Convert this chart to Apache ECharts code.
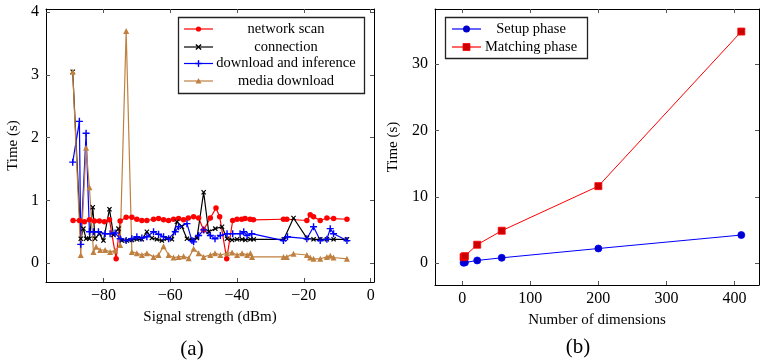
<!DOCTYPE html>
<html>
<head>
<meta charset="utf-8">
<script src="https://cdn.jsdelivr.net/npm/echarts@6/dist/echarts.min.js"></script>
<style>
html, body { margin: 0; padding: 0; background: #fff; }
#chart { width: 761px; height: 363px; }
</style>
</head>
<body>
<div id="chart"></div>
<script>
// (a) signal strength vs time, one x list per series
var scanX = [-89.1, -87.2, -85.7, -84.2, -82.7, -81.2, -79.7, -78.2, -76.2, -75, -73.2, -71.5, -70, -68.5, -67, -65, -63.5, -62, -60.5, -59, -57.5, -56, -54.6, -53, -51.5, -50, -48, -46.3, -45.2, -43.1, -41.3, -40, -38.6, -37.6, -36.1, -35.1, -26.1, -25.1, -19.1, -18.1, -17.1, -15.1, -13.1, -11.1, -7.1];
var scanY = [0.68, 0.68, 0.66, 0.69, 0.67, 0.67, 0.66, 0.69, 0.07, 0.67, 0.73, 0.73, 0.70, 0.68, 0.68, 0.70, 0.71, 0.69, 0.68, 0.70, 0.71, 0.69, 0.72, 0.74, 0.72, 0.53, 0.72, 0.88, 0.74, 0.07, 0.68, 0.70, 0.70, 0.71, 0.70, 0.69, 0.70, 0.70, 0.68, 0.77, 0.74, 0.68, 0.72, 0.71, 0.70];

var connX = [-89.2, -86.8, -86, -85.2, -84.2, -83.2, -82.5, -81.2, -80, -78.2, -77, -75.5, -74.5, -73, -71.5, -70, -68.5, -67, -65.5, -64, -62.5, -61, -59.5, -58, -56.5, -55, -53.5, -52, -50, -48.5, -46.5, -44.5, -43, -41.5, -40, -38.5, -37.5, -36, -35, -26, -23.1, -19.1, -17.1, -15.1, -13.1, -11.1, -7.1];
var connY = [3.05, 0.39, 0.55, 0.39, 0.39, 0.89, 0.39, 0.47, 0.36, 0.86, 0.45, 0.55, 0.36, 0.36, 0.37, 0.38, 0.38, 0.50, 0.40, 0.38, 0.36, 0.39, 0.38, 0.66, 0.58, 0.39, 0.37, 0.40, 1.13, 0.50, 0.55, 0.58, 0.39, 0.37, 0.38, 0.38, 0.37, 0.38, 0.38, 0.38, 0.72, 0.40, 0.38, 0.38, 0.38, 0.38, 0.38];

var dlX = [-89.2, -87.2, -86.8, -85.2, -84.2, -83, -81.5, -79.5, -78, -76.5, -75, -73.2, -71.5, -70, -68.5, -67, -65, -63.5, -62, -60.5, -58.5, -57.5, -55, -53.5, -53, -51.5, -50, -48, -46.6, -45, -43, -41.3, -39.1, -38, -37, -35.6, -26.1, -24.9, -19.1, -17.1, -15.1, -13.1, -12.1, -11.1, -7.1];
var dlY = [1.61, 2.26, 0.30, 2.07, 0.50, 0.50, 0.50, 0.47, 0.47, 0.48, 0.39, 0.36, 0.39, 0.42, 0.40, 0.42, 0.50, 0.46, 0.42, 0.39, 0.50, 0.58, 0.63, 0.36, 0.34, 0.44, 0.53, 0.44, 0.39, 0.44, 0.47, 0.47, 0.47, 0.50, 0.44, 0.47, 0.36, 0.42, 0.39, 0.58, 0.36, 0.38, 0.55, 0.47, 0.36];

var mediaX = [-89.2, -86.8, -85.2, -84.2, -83, -82.2, -81, -79.5, -78, -76.5, -75, -73.2, -71.5, -70, -68.5, -67, -65, -63.5, -62, -60.5, -59, -57.5, -56, -54.5, -53, -51.5, -50, -48, -46.6, -45, -43, -41.5, -40, -38.5, -37, -36, -35.5, -26.1, -25.1, -23.1, -19.1, -18.1, -17.1, -15.1, -13.1, -12.1, -11.1, -7.1];
var mediaY = [3.05, 0.13, 1.84, 1.21, 0.18, 0.26, 0.21, 0.21, 0.18, 0.20, 0.29, 3.70, 0.18, 0.16, 0.13, 0.16, 0.10, 0.13, 0.27, 0.13, 0.09, 0.10, 0.11, 0.08, 0.23, 0.16, 0.10, 0.13, 0.16, 0.13, 0.16, 0.17, 0.13, 0.16, 0.13, 0.16, 0.10, 0.10, 0.10, 0.15, 0.13, 0.09, 0.07, 0.07, 0.10, 0.12, 0.09, 0.07];

// (b) dimensions vs time
var dims = [2, 4, 22, 58, 200, 410];
var setupTime = [0.05, 0.1, 0.4, 0.8, 2.2, 4.23];
var matchTime = [0.9, 1.05, 2.77, 4.88, 11.6, 34.9];

var leftXTicks = [-80, -60, -40, -20, 0];
var leftYTicks = [0, 1, 2, 3, 4];
var rightXTicks = [0, 100, 200, 300, 400];
var rightYTicks = [0, 10, 20, 30];

var FONT = 'Liberation Serif';
var plusPath = 'path://M4,0H6V4H10V6H6V10H4V6H0V4H4Z';

function pairs(xs, ys) {
	return xs.map(function(x, i) { return [x, ys[i]]; });
}
function fmt(v) {
	return v < 0 ? '\u2212' + Math.abs(v) : String(v);
}

function axis(grid, min, max, ticks, pos, name, nameGap) {
	var main = (pos === 'bottom' || pos === 'left');
	return {
		type: 'value', gridIndex: grid, min: min, max: max, position: pos,
		splitLine: { show: false },
		axisLine: { show: true, onZero: false, lineStyle: { color: '#000', width: 1 } },
		axisTick: { show: true, inside: true, length: 4, customValues: ticks, lineStyle: { color: '#555', width: 1 } },
		axisLabel: {
			show: main, customValues: ticks, formatter: fmt,
			margin: pos === 'bottom' ? 6 : 7,
			fontFamily: FONT, fontSize: 16, color: '#000'
		},
		name: main ? name : '',
		nameLocation: 'middle', nameGap: nameGap,
		nameTextStyle: { fontFamily: FONT, fontSize: 15, color: '#000' }
	};
}

function lineSeries(name, xi, yi, data, color, symbol, size, extra) {
	var s = {
		name: name, type: 'line', xAxisIndex: xi, yAxisIndex: yi, data: data,
		symbol: symbol, symbolSize: size, showSymbol: true,
		lineStyle: { color: color, width: 1.2 },
		itemStyle: { color: color },
		emphasis: { disabled: true },
		animation: false
	};
	for (var k in extra) s[k] = extra[k];
	return s;
}

// hand drawn legends, text centred like the pgfplots ones
function legendRows(x0, x1, rows, textX) {
	var out = [];
	rows.forEach(function(r) {
		var cx = (x0 + x1) / 2;
		out.push({ type: 'line', shape: { x1: x0, y1: r.y, x2: x1, y2: r.y }, style: { stroke: r.color, lineWidth: 1.2 } });
		out = out.concat(r.mark(cx, r.y));
		out.push({ type: 'text', x: textX, y: r.y, style: { text: r.text, font: '14.5px "' + FONT + '"', fill: '#000', textAlign: 'center', textVerticalAlign: 'middle' } });
	});
	return out;
}
function dot(color, r) {
	return function(x, y) { return [{ type: 'circle', shape: { cx: x, cy: y, r: r }, style: { fill: color } }]; };
}
function tri(color) {
	return function(x, y) { return [{ type: 'polygon', shape: { points: [[x - 3, y + 2.5], [x + 3, y + 2.5], [x, y - 3]] }, style: { fill: color } }]; };
}
function cross(color, rot) {
	return function(x, y) {
		var d = 2.6;
		var p = rot ? [[x - d, y - d, x + d, y + d], [x - d, y + d, x + d, y - d]] : [[x - d - 0.8, y, x + d + 0.8, y], [x, y - d - 0.8, x, y + d + 0.8]];
		return p.map(function(q) {
			return { type: 'line', shape: { x1: q[0], y1: q[1], x2: q[2], y2: q[3] }, style: { stroke: color, lineWidth: 1.4 } };
		});
	};
}
function square(color) {
	return function(x, y) { return [{ type: 'rect', shape: { x: x - 3.5, y: y - 3.5, width: 7, height: 7 }, style: { fill: color, stroke: '#f00', lineWidth: 0.8 } }]; };
}

var graphics = [
	{ type: 'rect', shape: { x: 178.5, y: 17.5, width: 186, height: 76 }, style: { fill: '#fff', stroke: '#222', lineWidth: 1.3 }, z: 50 },
	{ type: 'rect', shape: { x: 445.5, y: 17.5, width: 142, height: 41 }, style: { fill: '#fff', stroke: '#222', lineWidth: 1.3 }, z: 50 },
	{ type: 'text', x: 192, y: 349, style: { text: '(a)', font: '21px "' + FONT + '"', fill: '#000', textAlign: 'center', textVerticalAlign: 'middle' } },
	{ type: 'text', x: 578, y: 347, style: { text: '(b)', font: '21px "' + FONT + '"', fill: '#000', textAlign: 'center', textVerticalAlign: 'middle' } }
];
var legendA = legendRows(184, 213, [
	{ y: 29, color: '#f00', text: 'network scan', mark: dot('#f00', 2.6) },
	{ y: 47, color: '#000', text: 'connection', mark: cross('#000', true) },
	{ y: 63.5, color: '#00f', text: 'download and inference', mark: cross('#00f', false) },
	{ y: 81, color: '#bf8040', text: 'media download', mark: tri('#bf8040') }
], 286);
var legendB = legendRows(452, 481, [
	{ y: 29, color: '#00f', text: 'Setup phase', mark: dot('#0000cc', 3.5) },
	{ y: 47, color: '#f00', text: 'Matching phase', mark: square('#cc0000') }
], 531);
legendA.concat(legendB).forEach(function(g) { g.z = 51; graphics.push(g); });

var option = {
	backgroundColor: '#fff',
	grid: [
		{ left: 46, top: 9, width: 328, height: 273 },
		{ left: 435, top: 9, width: 324, height: 276 }
	],
	xAxis: [
		axis(0, -97.2, 1, leftXTicks, 'bottom', 'Signal strength (dBm)', 28),
		axis(0, -97.2, 1, leftXTicks, 'top', '', 0),
		axis(1, -40, 436, rightXTicks, 'bottom', 'Number of dimensions', 28),
		axis(1, -40, 436, rightXTicks, 'top', '', 0)
	],
	yAxis: [
		axis(0, -0.3, 4.05, leftYTicks, 'left', 'Time (s)', 25),
		axis(0, -0.3, 4.05, leftYTicks, 'right', '', 0),
		axis(1, -3.3, 38.3, rightYTicks, 'left', 'Time (s)', 34),
		axis(1, -3.3, 38.3, rightYTicks, 'right', '', 0)
	],
	series: [
		lineSeries('network scan', 0, 0, pairs(scanX, scanY), '#f00', 'circle', 5.5),
		lineSeries('connection', 0, 0, pairs(connX, connY), '#000', plusPath, 6, { symbolRotate: 45 }),
		lineSeries('download and inference', 0, 0, pairs(dlX, dlY), '#00f', plusPath, 7),
		lineSeries('media download', 0, 0, pairs(mediaX, mediaY), '#bf8040', 'triangle', 6),
		lineSeries('Setup phase', 2, 2, pairs(dims, setupTime), '#00f', 'circle', 7,
			{ itemStyle: { color: '#0000cc', borderColor: '#00f', borderWidth: 0.8 }, lineStyle: { color: '#00f', width: 1 } }),
		lineSeries('Matching phase', 2, 2, pairs(dims, matchTime), '#f00', 'rect', 7,
			{ itemStyle: { color: '#cc0000', borderColor: '#f00', borderWidth: 0.8 }, lineStyle: { color: '#f00', width: 1 } })
	],
	graphic: graphics
};

var chart = echarts.init(document.getElementById('chart'), null, { renderer: 'canvas' });
chart.setOption(option);
</script>
</body>
</html>
